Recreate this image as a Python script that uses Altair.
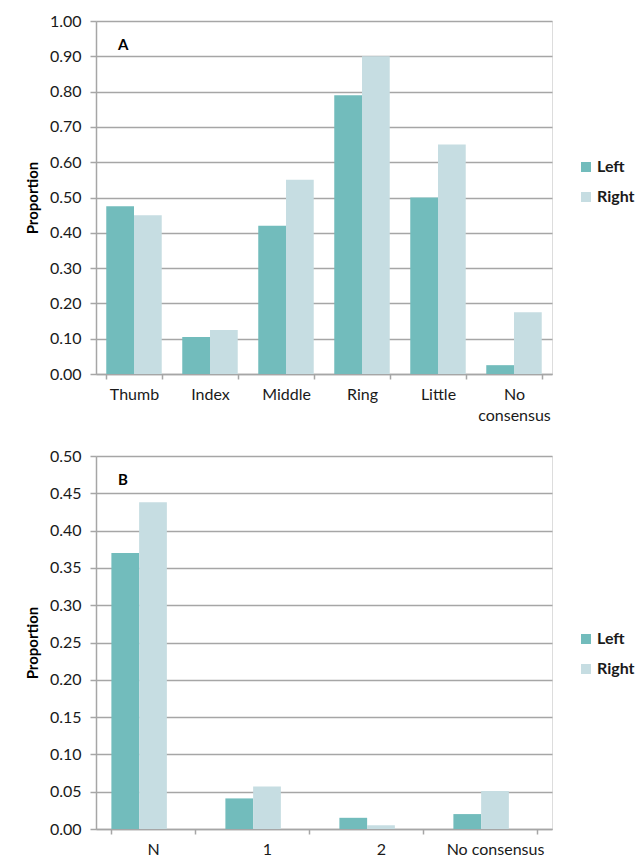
import altair as alt
import pandas as pd

# Panel A: finger categories
fingers = ["Thumb", "Index", "Middle", "Ring", "Little", "No consensus"]
fingers_left = [0.475, 0.105, 0.42, 0.79, 0.50, 0.025]
fingers_right = [0.45, 0.125, 0.55, 0.90, 0.65, 0.175]

# Panel B: count categories
counts = ["N", "1", "2", "No consensus"]
counts_left = [0.37, 0.041, 0.015, 0.02]
counts_right = [0.438, 0.057, 0.005, 0.051]

sides = ["Left", "Right"]
colors = ["#72BCBC", "#C6DDE2"]

FONT = "Lato"
GRID = "#A6A6A6"


def long_table(cats, left, right):
    rows = []
    for c, l, r in zip(cats, left, right):
        rows.append({"category": c, "side": "Left", "value": l})
        rows.append({"category": c, "side": "Right", "value": r})
    return pd.DataFrame(rows)


def panel(cats, left, right, ymax, step, letter, height, legend_y, label_expr):
    df = long_table(cats, left, right)
    ticks = [round(i * step, 4) for i in range(int(round(ymax / step)) + 1)]
    bars = alt.Chart(df).mark_bar().encode(
        x=alt.X(
            "category:N",
            sort=cats,
            scale=alt.Scale(paddingInner=0.27, paddingOuter=0.135),
            axis=alt.Axis(
                title=None,
                labelAngle=0,
                tickBand="extent",
                tickSize=5,
                tickColor=GRID,
                domainColor=GRID,
                domainWidth=1.5,
                tickWidth=1.5,
                labelPadding=7,
                labelFontSize=16,
                labelColor="#1a1a1a",
                labelFont=FONT,
                labelExpr=label_expr,
                labelLineHeight=21,
            ),
        ),
        xOffset=alt.XOffset("side:N", sort=sides, scale=alt.Scale(paddingInner=0, paddingOuter=0)),
        y=alt.Y(
            "value:Q",
            scale=alt.Scale(domain=[0, ymax], nice=False),
            axis=alt.Axis(
                title="Proportion",
                titleFont=FONT,
                titleFontSize=15,
                titleFontWeight="bold",
                titleColor="#000000",
                titlePadding=9,
                values=ticks,
                format=".2f",
                grid=True,
                gridColor=GRID,
                gridWidth=1.5,
                domainColor=GRID,
                domainWidth=1.5,
                tickColor=GRID,
                tickWidth=1.5,
                tickSize=6,
                labelPadding=9,
                labelFontSize=16,
                labelColor="#1a1a1a",
                labelFont=FONT,
            ),
        ),
        color=alt.Color(
            "side:N",
            sort=sides,
            scale=alt.Scale(domain=sides, range=colors),
            legend=alt.Legend(
                title=None,
                orient="none",
                legendX=482,
                legendY=legend_y,
                symbolType="square",
                symbolSize=100,
                symbolStrokeWidth=0,
                rowPadding=14,
                labelFontSize=16,
                labelFont=FONT,
                labelFontWeight="bold",
                labelColor="#1a1a1a",
                labelOffset=3,
            ),
        ),
    )
    tag = alt.Chart(pd.DataFrame({"t": [letter]})).mark_text(
        font=FONT, fontSize=15, fontWeight="bold", align="left", baseline="middle", color="#000000"
    ).encode(text="t:N", x=alt.value(22), y=alt.value(24))
    return alt.layer(bars, tag).properties(width=456, height=height)


top = panel(
    fingers, fingers_left, fingers_right, 1.0, 0.1, "A", 353, 138,
    "datum.label == 'No consensus' ? ['No', 'consensus'] : datum.label",
)
bottom = panel(counts, counts_left, counts_right, 0.5, 0.05, "B", 373, 175, "datum.label")

chart = alt.vconcat(top, bottom, spacing=23).resolve_scale(color="independent").resolve_legend(
    color="independent"
).properties(
    padding={"left": 24, "top": 12, "right": 0, "bottom": 0}
).configure_view(stroke=None).configure(background="#ffffff")

chart.save("out.html", embed_options={"renderer": "svg", "actions": False})
